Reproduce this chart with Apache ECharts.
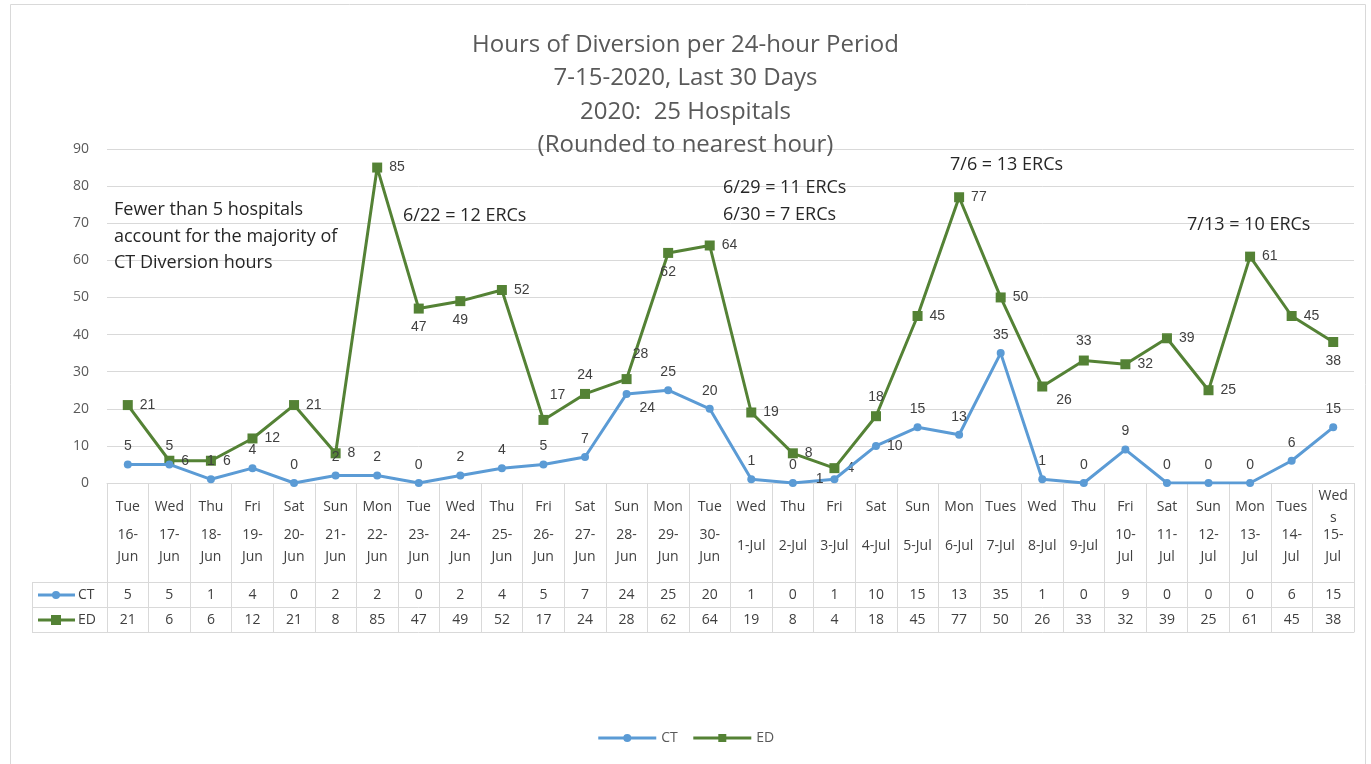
<!DOCTYPE html>
<html><head><meta charset="utf-8">
<script src="https://cdn.jsdelivr.net/npm/echarts@6/dist/echarts.min.js"></script>
<style>html,body{margin:0;padding:0;background:#fff}#c{width:1371px;height:764px}</style>
</head><body><div id="c"></div>
<script>
var days = ['Tue','Wed','Thu','Fri','Sat','Sun','Mon','Tue','Wed','Thu','Fri','Sat','Sun','Mon','Tue','Wed','Thu','Fri','Sat','Sun','Mon','Tues','Wed','Thu','Fri','Sat','Sun','Mon','Tues','Weds'];
var dates = ['16-Jun','17-Jun','18-Jun','19-Jun','20-Jun','21-Jun','22-Jun','23-Jun','24-Jun','25-Jun','26-Jun','27-Jun','28-Jun','29-Jun','30-Jun','1-Jul','2-Jul','3-Jul','4-Jul','5-Jul','6-Jul','7-Jul','8-Jul','9-Jul','10-Jul','11-Jul','12-Jul','13-Jul','14-Jul','15-Jul'];
var ctValues = [5,5,1,4,0,2,2,0,2,4,5,7,24,25,20,1,0,1,10,15,13,35,1,0,9,0,0,0,6,15];
var edValues = [21,6,6,12,21,8,85,47,49,52,17,24,28,62,64,19,8,4,18,45,77,50,26,33,32,39,25,61,45,38];
var yTicks = {min:0, max:90, interval:10};
var titleLines = ['Hours of Diversion per 24-hour Period','7-15-2020, Last 30 Days','2020:  25 Hospitals','(Rounded to nearest hour)'];

// label placement (style, not data)
var ctLabelPos = ['t','t','t','t','t','t','t','t','t','t','t','t','br','t','t','t','t','l','r','t','t','t','t','t','t','t','t','t','t','t'];
var edLabelPos = ['r','r','r','r','r','r','r','b','b','r','tr','t','tr','b','r','r','r','r','t','r','r','r','br','t','r','r','r','r','r','b'];

var FONT = 'Liberation Sans';
var TFONT = 'Open Sans';
var TXT = '#404040';
var CT_COLOR = '#5b9bd5', ED_COLOR = '#548235';

function labelFor(p){
  var base = {show:true, color:TXT, fontSize:14, fontFamily:FONT, distance:7};
  if(p==='t') base.position='top';
  else if(p==='b') base.position='bottom';
  else if(p==='l') base.position='left';
  else if(p==='r') base.position='right';
  else if(p==='tr'){ base.position='top'; base.offset=[14,-6]; }
  else if(p==='br'){ base.position='right'; base.offset=[2,14]; }
  return base;
}
function items(vals, pos){ return vals.map(function(v,i){ return {value:v, label:labelFor(pos[i])}; }); }

var chart = echarts.init(document.getElementById('c'));
var gridL=107, gridR=17, gridT=149, gridB=281;
var lineC = '#d9d9d9';
var rowAxis = function(offset, vals){
  return {type:'category', data:days, position:'bottom', offset:offset, boundaryGap:true,
    axisLine:{show:true, lineStyle:{color:lineC, width:1}}, axisTick:{show:false},
    axisLabel:{show:!!vals, interval:0, margin:13, verticalAlign:'middle', color:TXT, fontSize:14, fontFamily:TFONT,
      formatter:function(v,i){ return vals ? String(vals[i]) : ''; }},
    splitLine:{show:false}};
};
chart.setOption({
  animation:false,
  title:{text:titleLines.join('\n'), left:'center', top:28, padding:0,
    textStyle:{fontFamily:TFONT, fontSize:24, fontWeight:'normal', color:'#595959', lineHeight:33.5}},
  legend:{bottom:14, left:'center', itemWidth:58, itemHeight:10, itemGap:14,
    lineStyle:{width:3},
    textStyle:{fontFamily:TFONT, fontSize:14, color:'#595959'}, data:['CT','ED']},
  grid:{left:gridL, right:gridR, top:gridT, bottom:gridB, containLabel:false},
  xAxis:[
    {type:'category', data:days, position:'bottom', boundaryGap:true,
      axisLine:{show:true, lineStyle:{color:lineC}},
      axisTick:{show:true, length:149, alignWithLabel:false, interval:0, lineStyle:{color:lineC}},
      axisLabel:{interval:0, margin:24, verticalAlign:'middle', lineHeight:22, width:34, overflow:'breakAll',
        color:TXT, fontSize:14, fontFamily:TFONT}},
    {type:'category', data:dates, position:'bottom', boundaryGap:true,
      axisLine:{show:false}, axisTick:{show:false},
      axisLabel:{interval:0, margin:63, verticalAlign:'middle', lineHeight:22, color:TXT, fontSize:14, fontFamily:TFONT,
        formatter:function(d){ return d.length>5 ? d.replace('-','-\n') : d; }}},
    rowAxis(99, ctValues),
    rowAxis(124, edValues),
    rowAxis(149, null)
  ],
  yAxis:{type:'value', min:yTicks.min, max:yTicks.max, interval:yTicks.interval,
    axisLine:{show:false}, axisTick:{show:false},
    axisLabel:{color:'#595959', fontSize:14, fontFamily:TFONT, margin:18},
    splitLine:{lineStyle:{color:lineC}}},
  series:[
    {name:'CT', type:'line', xAxisIndex:0, data:items(ctValues, ctLabelPos), symbol:'circle', symbolSize:8,
      lineStyle:{color:CT_COLOR, width:3}, itemStyle:{color:CT_COLOR}, z:3},
    {name:'ED', type:'line', xAxisIndex:0, data:items(edValues, edLabelPos), symbol:'rect', symbolSize:10,
      lineStyle:{color:ED_COLOR, width:3}, itemStyle:{color:ED_COLOR}, z:2}
  ],
  graphic:[
    {type:'rect', shape:{x:10.5, y:4.5, width:1355, height:775}, style:{fill:'none', stroke:lineC, lineWidth:1}, silent:true},
    {type:'line', shape:{x1:32.5, y1:582, x2:32.5, y2:632}, style:{stroke:lineC}},
    {type:'line', shape:{x1:32, y1:582.5, x2:107, y2:582.5}, style:{stroke:lineC}},
    {type:'line', shape:{x1:32, y1:607.5, x2:107, y2:607.5}, style:{stroke:lineC}},
    {type:'line', shape:{x1:32, y1:632.5, x2:107, y2:632.5}, style:{stroke:lineC}},
    {type:'line', shape:{x1:38, y1:595, x2:75, y2:595}, style:{stroke:CT_COLOR, lineWidth:3}},
    {type:'circle', shape:{cx:56, cy:595, r:4}, style:{fill:CT_COLOR}},
    {type:'text', style:{x:78, y:595, text:'CT', fill:TXT, fontSize:14, fontFamily:TFONT, verticalAlign:'middle'}},
    {type:'line', shape:{x1:38, y1:620, x2:75, y2:620}, style:{stroke:ED_COLOR, lineWidth:3}},
    {type:'rect', shape:{x:51, y:615, width:10, height:10}, style:{fill:ED_COLOR}},
    {type:'text', style:{x:78, y:620, text:'ED', fill:TXT, fontSize:14, fontFamily:TFONT, verticalAlign:'middle'}},
    {type:'text', z:100, style:{x:114, y:197, text:'Fewer than 5 hospitals\naccount for the majority of\nCT Diversion hours', fill:'#262626', fontSize:18, lineHeight:26.5, fontFamily:TFONT}},
    {type:'text', z:100, style:{x:403, y:207, text:'6/22 = 12 ERCs', fill:'#262626', fontSize:18, fontFamily:TFONT}},
    {type:'text', z:100, style:{x:723, y:174, text:'6/29 = 11 ERCs\n6/30 = 7 ERCs', fill:'#262626', fontSize:18, lineHeight:27, fontFamily:TFONT}},
    {type:'text', z:100, style:{x:950, y:156, text:'7/6 = 13 ERCs', fill:'#262626', fontSize:18, fontFamily:TFONT}},
    {type:'text', z:100, style:{x:1187, y:216, text:'7/13 = 10 ERCs', fill:'#262626', fontSize:18, fontFamily:TFONT}}
  ]
});
</script></body></html>
